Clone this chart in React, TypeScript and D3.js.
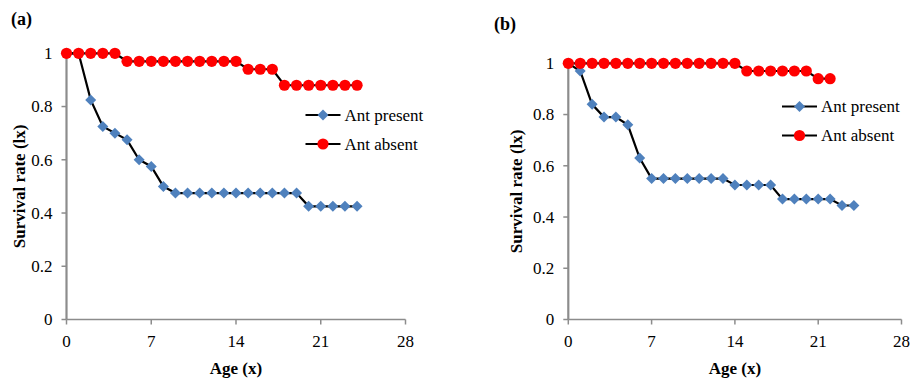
import React from "react";
import * as d3 from "d3";

const agesA = [0, 1, 2, 3, 4, 5, 6, 7, 8, 9, 10, 11, 12, 13, 14, 15, 16, 17, 18, 19, 20, 21, 22, 23, 24];
const presentA = [1, 1, 0.825, 0.725, 0.7, 0.675, 0.6, 0.575, 0.5, 0.475, 0.475, 0.475, 0.475, 0.475, 0.475, 0.475, 0.475, 0.475, 0.475, 0.475, 0.425, 0.425, 0.425, 0.425, 0.425];
const absentA = [1, 1, 1, 1, 1, 0.97, 0.97, 0.97, 0.97, 0.97, 0.97, 0.97, 0.97, 0.97, 0.97, 0.94, 0.94, 0.94, 0.88, 0.88, 0.88, 0.88, 0.88, 0.88, 0.88];

const agesBPresent = [0, 1, 2, 3, 4, 5, 6, 7, 8, 9, 10, 11, 12, 13, 14, 15, 16, 17, 18, 19, 20, 21, 22, 23, 24];
const presentB = [1, 0.97, 0.84, 0.79, 0.79, 0.76, 0.63, 0.55, 0.55, 0.55, 0.55, 0.55, 0.55, 0.55, 0.525, 0.525, 0.525, 0.525, 0.47, 0.47, 0.47, 0.47, 0.47, 0.445, 0.445];
const agesBAbsent = [0, 1, 2, 3, 4, 5, 6, 7, 8, 9, 10, 11, 12, 13, 14, 15, 16, 17, 18, 19, 20, 21, 22];
const absentB = [1, 1, 1, 1, 1, 1, 1, 1, 1, 1, 1, 1, 1, 1, 1, 0.97, 0.97, 0.97, 0.97, 0.97, 0.97, 0.94, 0.94];

const xTicks = [0, 7, 14, 21, 28];
const yTicks = [0, 0.2, 0.4, 0.6, 0.8, 1];
const seriesNames = ["Ant present", "Ant absent"];
const panelLabels = ["(a)", "(b)"];
const xTitle = "Age (x)";
const yTitle = "Survival rate (lx)";

const FONT = '"Liberation Serif", "Times New Roman", "DejaVu Serif", serif';
const BLUE = "#4F81BD";
const RED = "#FF0000";
const AXIS = "#8c8c8c";

type PanelProps = {
  label: string;
  labelX: number;
  labelY: number;
  left: number;
  right: number;
  top: number;
  bottom: number;
  pAges: number[];
  pVals: number[];
  aAges: number[];
  aVals: number[];
  legX: number;
  legY: number;
  yTitleX: number;
};

function Diamond({ x, y, s = 5.5 }: { x: number; y: number; s?: number }) {
  return <path d={`M${x},${y - s}L${x + s},${y}L${x},${y + s}L${x - s},${y}Z`} fill={BLUE} />;
}

const txt = (size: number, bold = false): React.CSSProperties => ({
  fontFamily: FONT,
  fontSize: size,
  fontWeight: bold ? "bold" : "normal",
});

function Panel(p: PanelProps) {
  const x = d3.scaleLinear().domain([0, 28]).range([p.left, p.right]);
  const y = d3.scaleLinear().domain([0, 1]).range([p.bottom, p.top]);
  const line = d3
    .line<[number, number]>()
    .x((d) => x(d[0]))
    .y((d) => y(d[1]));
  const pData = p.pAges.map((a, i) => [a, p.pVals[i]] as [number, number]);
  const aData = p.aAges.map((a, i) => [a, p.aVals[i]] as [number, number]);
  const midY = (p.top + p.bottom) / 2;
  return (
    <g>
      <text x={p.labelX} y={p.labelY} style={txt(18, true)}>
        {p.label}
      </text>
      <line x1={x(0)} x2={x(0)} y1={y(0)} y2={y(1)} stroke={AXIS} strokeWidth={2.2} />
      <line x1={x(0)} x2={x(28)} y1={y(0)} y2={y(0)} stroke={AXIS} strokeWidth={1.5} />
      {yTicks.map((t) => (
        <g key={"y" + t}>
          <line x1={x(0) - 5} x2={x(0)} y1={y(t)} y2={y(t)} stroke={AXIS} strokeWidth={1.5} />
          <text x={x(0) - 14} y={y(t)} dy="0.35em" textAnchor="end" style={txt(17)}>
            {String(t)}
          </text>
        </g>
      ))}
      {xTicks.map((t) => (
        <g key={"x" + t}>
          <line x1={x(t)} x2={x(t)} y1={y(0)} y2={y(0) + 5} stroke={AXIS} strokeWidth={1.5} />
          <text x={x(t)} y={y(0) + 27} textAnchor="middle" style={txt(17)}>
            {String(t)}
          </text>
        </g>
      ))}
      <text x={(p.left + p.right) / 2} y={374} textAnchor="middle" style={txt(17, true)}>
        {xTitle}
      </text>
      <text transform={`translate(${p.yTitleX},${midY}) rotate(-90)`} textAnchor="middle" style={txt(17, true)}>
        {yTitle}
      </text>
      <path d={line(pData) ?? ""} fill="none" stroke="#000" strokeWidth={2.2} />
      <path d={line(aData) ?? ""} fill="none" stroke="#000" strokeWidth={2.2} />
      {pData.map((d, i) => (
        <Diamond key={"p" + i} x={x(d[0])} y={y(d[1])} />
      ))}
      {aData.map((d, i) => (
        <circle key={"a" + i} cx={x(d[0])} cy={y(d[1])} r={5.6} fill={RED} />
      ))}
      <g>
        <line x1={p.legX} x2={p.legX + 35} y1={p.legY} y2={p.legY} stroke="#000" strokeWidth={2.2} />
        <Diamond x={p.legX + 17.5} y={p.legY} />
        <text x={p.legX + 39} y={p.legY} dy="0.35em" style={txt(17)}>
          {seriesNames[0]}
        </text>
        <line x1={p.legX} x2={p.legX + 35} y1={p.legY + 29} y2={p.legY + 29} stroke="#000" strokeWidth={2.2} />
        <circle cx={p.legX + 17.5} cy={p.legY + 29} r={5.6} fill={RED} />
        <text x={p.legX + 39} y={p.legY + 29} dy="0.35em" style={txt(17)}>
          {seriesNames[1]}
        </text>
      </g>
    </g>
  );
}

export default function App() {
  return (
    <svg width={911} height={380} style={{ position: "absolute", left: 0, top: 0, background: "#fff" }}>
      <rect width={911} height={380} fill="#fff" />
      <Panel
        label={panelLabels[0]}
        labelX={11}
        labelY={25}
        left={66.5}
        right={405.5}
        top={53.3}
        bottom={319.5}
        pAges={agesA}
        pVals={presentA}
        aAges={agesA}
        aVals={absentA}
        legX={305.5}
        legY={115}
        yTitleX={25}
      />
      <Panel
        label={panelLabels[1]}
        labelX={494}
        labelY={30}
        left={568.3}
        right={901.5}
        top={63.3}
        bottom={319.5}
        pAges={agesBPresent}
        pVals={presentB}
        aAges={agesBAbsent}
        aVals={absentB}
        legX={782}
        legY={106.5}
        yTitleX={522}
      />
    </svg>
  );
}
